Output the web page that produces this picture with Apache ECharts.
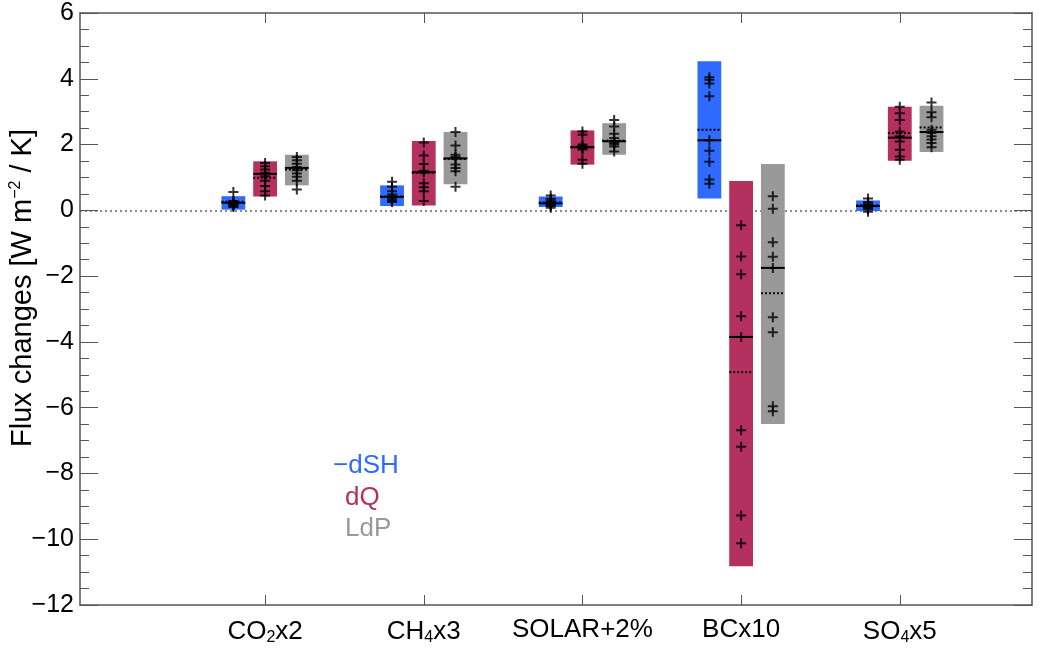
<!DOCTYPE html>
<html lang="en">
<head>
<meta charset="utf-8" />
<title>Flux changes</title>
<script src="https://cdn.jsdelivr.net/npm/echarts@6/dist/echarts.min.js"></script>
<style>
  html, body { margin: 0; padding: 0; background: #fff; }
  #main { width: 1048px; height: 648px; }
</style>
</head>
<body>
<div id="main"></div>
<script>
// categories (rich text keys for sub-scripts)
var categories = ['CO{sub|2}x2', 'CH{sub|4}x3', 'SOLAR+2%', 'BCx10', 'SO{sub|4}x5'];

// -dSH : bar range, median, mean, single models
var dSH_low    = [0.02, 0.13, 0.10, 0.36, -0.02];
var dSH_high   = [0.43, 0.76, 0.42, 4.53, 0.30];
var dSH_median = [0.23, 0.41, 0.21, 2.13, 0.13];
var dSH_mean   = [0.26, 0.42, 0.24, 2.45, 0.15];
var dSH_models = [
  [0.56, 0.28, 0.25, 0.23, 0.20, 0.18, 0.16, 0.13, 0.10],
  [0.87, 0.72, 0.58, 0.48, 0.41, 0.38, 0.33, 0.28, 0.25],
  [0.45, 0.35, 0.30, 0.25, 0.22, 0.20, 0.17, 0.13, 0.08],
  [4.05, 3.97, 3.86, 3.47, 2.13, 1.81, 1.48, 0.94, 0.81],
  [0.36, 0.25, 0.20, 0.16, 0.13, 0.10, 0.07, 0.03, -0.04]
];

// dQ
var dQ_low    = [0.42, 0.15, 1.39, -10.82, 1.51];
var dQ_high   = [1.49, 2.11, 2.43, 0.89, 3.15];
var dQ_median = [1.11, 1.16, 1.92, -3.85, 2.21];
var dQ_mean   = [0.99, 1.14, 1.92, -4.92, 2.35];
var dQ_models = [
  [1.44, 1.34, 1.24, 1.14, 1.04, 0.90, 0.74, 0.58, 0.45],
  [2.06, 1.67, 1.41, 1.20, 1.16, 0.82, 0.70, 0.58, 0.28],
  [2.40, 2.30, 2.00, 1.96, 1.92, 1.89, 1.85, 1.54, 1.42],
  [-0.45, -1.40, -1.94, -3.22, -3.85, -6.69, -7.19, -9.28, -10.12],
  [3.15, 2.95, 2.75, 2.40, 2.25, 2.09, 1.84, 1.64, 1.54]
];

// LdP
var LdP_low    = [0.76, 0.79, 1.69, -6.50, 1.77];
var LdP_high   = [1.69, 2.38, 2.65, 1.41, 3.18];
var LdP_median = [1.29, 1.58, 2.10, -1.75, 2.38];
var LdP_mean   = [1.24, 1.56, 2.12, -2.52, 2.52];
var LdP_models = [
  [1.62, 1.52, 1.42, 1.32, 1.22, 1.12, 1.02, 0.90, 0.63],
  [2.38, 1.97, 1.69, 1.62, 1.58, 1.39, 1.29, 1.19, 0.72],
  [2.75, 2.55, 2.33, 2.20, 2.10, 2.05, 2.00, 1.94, 1.79],
  [0.43, 0.05, -0.97, -1.41, -1.75, -3.25, -3.71, -5.96, -6.11],
  [3.28, 2.98, 2.83, 2.45, 2.35, 2.25, 2.15, 2.05, 1.92]
];

var yTicks = [-12, -10, -8, -6, -4, -2, 0, 2, 4, 6];
var catPos = [1, 2, 3, 4, 5];

var FONT = "'Liberation Sans', Helvetica, Arial, sans-serif";
var BAR_W = 0.15;
var groups = [
  { name: '\u2212dSH', color: '#2f6bff', off: -0.2, low: dSH_low, high: dSH_high, med: dSH_median, mean: dSH_mean, models: dSH_models },
  { name: 'dQ',        color: '#b4305f', off: 0.0,  low: dQ_low,  high: dQ_high,  med: dQ_median,  mean: dQ_mean,  models: dQ_models },
  { name: 'LdP',       color: '#999999', off: 0.2,  low: LdP_low, high: LdP_high, med: LdP_median, mean: LdP_mean, models: LdP_models }
];

var PLUS = 'path://M4,0h2v4h4v2h-4v4h-2v-4h-4v-2h4z';

function barRender(color) {
  return function (params, api) {
    var x = api.value(0);
    var p1 = api.coord([x - BAR_W / 2, api.value(2)]);
    var p2 = api.coord([x + BAR_W / 2, api.value(1)]);
    return { type: 'rect', shape: { x: p1[0], y: p1[1], width: p2[0] - p1[0], height: p2[1] - p1[1] },
             style: { fill: color } };
  };
}
function lineRender(dash) {
  return function (params, api) {
    var x = api.value(0), v = api.value(1);
    var a = api.coord([x - BAR_W / 2, v]);
    var b = api.coord([x + BAR_W / 2, v]);
    return { type: 'line', shape: { x1: a[0], y1: a[1], x2: b[0], y2: b[1] },
             style: { stroke: '#000', lineWidth: 2, lineDash: dash } };
  };
}

var series = [];
groups.forEach(function (g) {
  var bars = [], meds = [], means = [], pts = [];
  for (var i = 0; i < categories.length; i++) {
    var x = catPos[i] + g.off;
    bars.push([x, g.low[i], g.high[i]]);
    meds.push([x, g.med[i]]);
    means.push([x, g.mean[i]]);
    g.models[i].forEach(function (v) { pts.push([x, v]); });
  }
  series.push({ type: 'custom', name: g.name, renderItem: barRender(g.color), data: bars, z: 1, silent: true });
  series.push({ type: 'custom', renderItem: lineRender([2, 2]), data: means, z: 2, silent: true });
  series.push({ type: 'custom', renderItem: lineRender(null), data: meds, z: 3, silent: true });
  series.push({ type: 'scatter', symbol: PLUS, symbolSize: 10, itemStyle: { color: '#000' }, data: pts, z: 4, silent: true });
});
// zero line
series[0].markLine = {
  silent: true, symbol: 'none', label: { show: false }, z: 0,
  lineStyle: { color: '#666', type: [2, 3], width: 1.5 },
  data: [{ yAxis: 0 }]
};

var axisCol = '#555';
var xMin = -1 / 6, xMax = 35 / 6;
var myChart = echarts.init(document.getElementById('main'), null, { renderer: 'canvas' });

var legendTexts = groups.map(function (g, i) {
  return {
    type: 'text', left: i === 0 ? 333 : 345, top: 453 + i * 31.5,
    style: { text: g.name, fill: g.color, font: '26px ' + FONT }
  };
});
var yTitle = {
  type: 'text', x: 23, y: 288, rotation: Math.PI / 2,
  style: {
    text: '{t|Flux changes [W m}{sup|\u22122}{t| / K]}',
    align: 'center', verticalAlign: 'middle',
    rich: {
      t: { fontSize: 29, fontFamily: FONT, fill: '#000' },
      sup: { fontSize: 16, fontFamily: FONT, fill: '#000', padding: [0, 0, 15, 0] }
    }
  }
};

var option = {
  animation: false,
  backgroundColor: '#fff',
  textStyle: { fontFamily: FONT },
  grid: { left: 80, top: 13, width: 952, height: 592 },
  xAxis: [{
    type: 'value', min: xMin, max: xMax, position: 'bottom',
    axisLine: { onZero: false, lineStyle: { color: axisCol, width: 1.5 } },
    axisTick: { inside: true, length: 10, customValues: catPos, lineStyle: { color: axisCol } },
    splitLine: { show: false },
    axisLabel: {
      margin: 12, color: '#000', fontSize: 26, fontFamily: FONT,
      customValues: catPos,
      formatter: function (v) { return categories[Math.round(v) - 1] || ''; },
      rich: { sub: { fontSize: 16, fontFamily: FONT, color: '#000', padding: [13, 0, 0, 0] } }
    }
  }, {
    type: 'value', min: xMin, max: xMax, position: 'top',
    axisLine: { onZero: false, lineStyle: { color: axisCol, width: 1.5 } },
    axisTick: { inside: true, length: 10, customValues: catPos, lineStyle: { color: axisCol } },
    axisLabel: { show: false }, splitLine: { show: false }
  }],
  yAxis: [{
    type: 'value', min: yTicks[0], max: yTicks[yTicks.length - 1], interval: 2, position: 'left',
    axisLine: { show: true, onZero: false, lineStyle: { color: axisCol, width: 1.5 } },
    axisTick: { show: true, inside: true, length: 18, lineStyle: { color: axisCol } },
    minorTick: { show: true, splitNumber: 4, length: 9, lineStyle: { color: axisCol } },
    splitLine: { show: false },
    axisLabel: {
      color: '#000', fontSize: 25, fontFamily: FONT, margin: 6,
      formatter: function (v) { return v < 0 ? '\u2212' + Math.abs(v) : String(v); }
    }
  }, {
    type: 'value', min: yTicks[0], max: yTicks[yTicks.length - 1], interval: 2, position: 'right',
    axisLine: { show: true, onZero: false, lineStyle: { color: axisCol, width: 1.5 } },
    axisTick: { show: true, inside: true, length: 18, lineStyle: { color: axisCol } },
    minorTick: { show: true, splitNumber: 4, length: 9, lineStyle: { color: axisCol } },
    splitLine: { show: false }, axisLabel: { show: false }
  }],
  graphic: legendTexts.concat([yTitle]),
  series: series
};
myChart.setOption(option);
</script>
</body>
</html>
